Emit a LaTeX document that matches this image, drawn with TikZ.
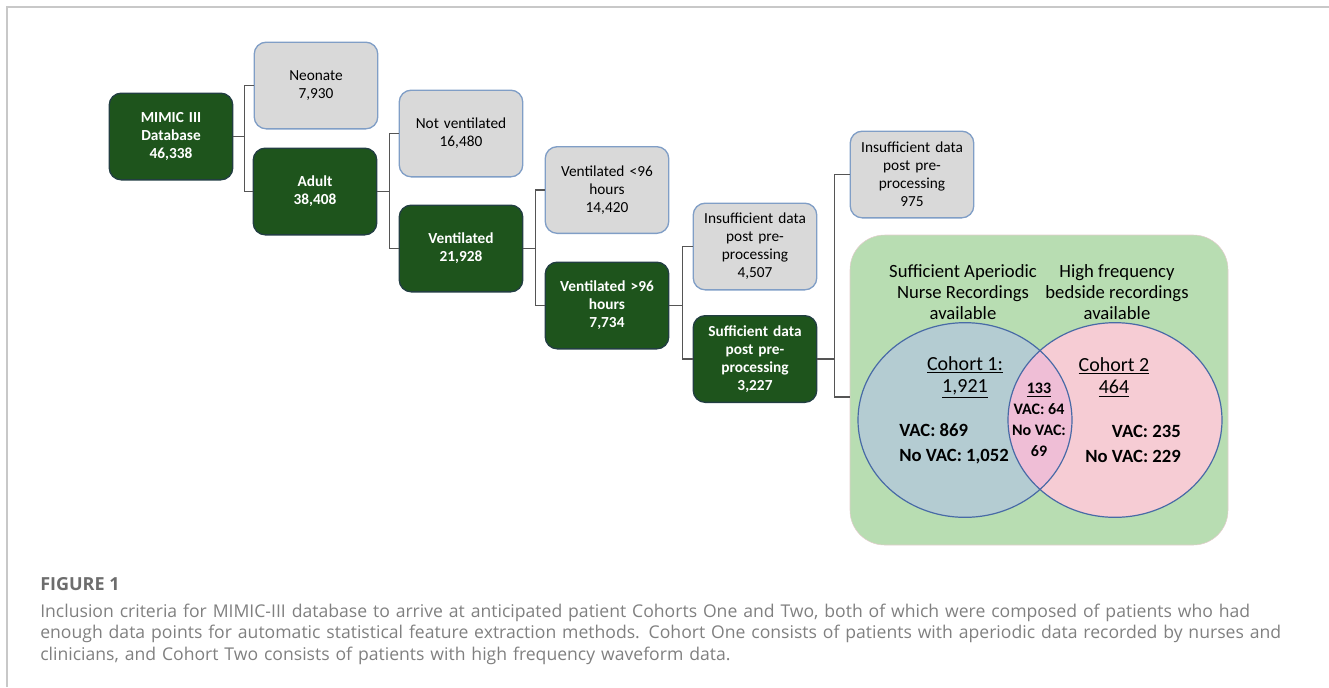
\documentclass[tikz,border=0pt]{standalone}
\usepackage{fontspec}
\setmainfont{Carlito}
\newfontfamily\capfont{Open Sans}
\usepackage{tikz}
\usetikzlibrary{positioning}

\definecolor{keepgreen}{RGB}{30,84,28}
\definecolor{keepedge}{RGB}{34,62,66}
\definecolor{dropgrey}{RGB}{217,217,217}
\definecolor{dropedge}{RGB}{128,158,198}
\definecolor{linkgrey}{RGB}{85,85,85}
\definecolor{cohortgreen}{RGB}{184,221,178}
\definecolor{cohortedge}{RGB}{226,204,204}
\definecolor{nursefill}{RGB}{180,204,210}
\definecolor{wavefill}{RGB}{246,204,212}
\definecolor{bothfill}{RGB}{239,190,214}
\definecolor{vennedge}{RGB}{72,106,166}
\definecolor{framegrey}{RGB}{200,200,200}
\definecolor{capgrey}{RGB}{128,128,128}

\begin{document}
\begin{tikzpicture}[
x=0.75pt,y=-0.75pt,
box/.style={draw,rounded corners=9pt,align=center,minimum width=91.5pt,minimum height=65pt,text width=86pt,line width=1pt},
kept/.style={box,fill=keepgreen,draw=keepedge,text=white,font=\fontsize{11.5}{13.5}\selectfont\bfseries},
dropped/.style={box,fill=dropgrey,draw=dropedge,font=\fontsize{11.5}{13.5}\selectfont},
link/.style={draw=linkgrey,line width=0.9pt},
venntext/.style={align=center,inner sep=0pt}
]
\useasboundingbox (0,0) rectangle (1329,687);
\draw[framegrey,line width=1.5pt] (7,687) -- (7,7) -- (1329,7);

% flow of patients
\node[kept] (db) at (171,136.5) {MIMIC III\\Database\\46,338};
\node[dropped] (neo) at (316,85.5) {Neonate\\7,930};
\node[kept] (adult) at (315,191.5) {Adult\\38,408};
\node[dropped] (notvent) at (461,133.5) {Not ventilated\\16,480};
\node[kept] (vent) at (461,248.5) {Ventilated\\21,928};
\node[dropped] (vshort) at (607,190) {Ventilated <96\\hours\\14,420};
\node[kept] (vlong) at (607,305.5) {Ventilated >96\\hours\\7,734};
\node[dropped] (lackA) at (755,246.5) {Insufficient data\\post pre-\\processing\\4,507};
\node[kept] (suff) at (755,359) {Sufficient data\\post pre-\\processing\\3,227};
\node[dropped] (lackB) at (912,174.5) {Insufficient data\\post pre-\\processing\\975};
\node[draw=cohortedge,fill=cohortgreen,rounded corners=26pt,minimum width=283.5pt,minimum height=232.5pt] (cohorts) at (1039,390) {};

\draw[link] (db.east) -- ++(11,0) coordinate (t1) |- (neo.west);
\draw[link] (t1) |- (adult.west);
\draw[link] (adult.east) -- ++(12,0) coordinate (t2) |- (notvent.west);
\draw[link] (t2) |- (vent.west);
\draw[link] (vent.east) -- ++(12,0) coordinate (t3) |- (vshort.west);
\draw[link] (t3) |- (vlong.west);
\draw[link] (vlong.east) -- ++(13,0) coordinate (t4) |- (lackA.west);
\draw[link] (t4) |- (suff.west);
\draw[link] (suff.east) -- ++(17,0) coordinate (t5) |- (lackB.west);
\draw[link] (t5) |- ([yshift=-5.25pt]cohorts.west);

% venn of the two cohorts
\coordinate (nurse) at (965,420);
\coordinate (wave) at (1115,420);
\fill[nursefill] (nurse) ellipse [x radius=80.25pt,y radius=73pt];
\fill[wavefill] (wave) ellipse [x radius=80.25pt,y radius=73pt];
\begin{scope}
\clip (nurse) ellipse [x radius=80.25pt,y radius=73pt];
\fill[bothfill] (wave) ellipse [x radius=80.25pt,y radius=73pt];
\end{scope}
\draw[vennedge,line width=0.9pt] (nurse) ellipse [x radius=80.25pt,y radius=73pt];
\draw[vennedge,line width=0.9pt] (wave) ellipse [x radius=80.25pt,y radius=73pt];

\node[venntext,font=\fontsize{14}{15.8}\selectfont] (nursehead) at (963,292) {Sufficient Aperiodic\\Nurse Recordings\\available};
\node[venntext,font=\fontsize{14}{15.8}\selectfont] (wavehead) at (1117,292) {High frequency\\bedside recordings\\available};
\node[venntext,font=\fontsize{15}{17}\selectfont] (coh1) at (965,377) {\underline{Cohort 1:}\\\underline{1,921}};
\node[venntext,font=\fontsize{15}{17}\selectfont] (coh2) at (1114,377) {\underline{Cohort 2}\\\underline{464}};
\node[venntext,font=\fontsize{12}{15.6}\selectfont\bfseries] (both) at (1039,420) {\underline{133}\\VAC: 64\\No VAC:\\69};
\node[venntext,align=left,anchor=west,font=\fontsize{14}{18.5}\selectfont\bfseries] (count1) at (899,444) {VAC: 869\\No VAC: 1,052};
\node[venntext,align=right,anchor=east,font=\fontsize{14}{18.5}\selectfont\bfseries] (count2) at (1181,444) {VAC: 235\\No VAC: 229};

% caption
\node[anchor=base west,inner sep=0pt,text=capgrey!85!black,font=\capfont\fontsize{13.5}{15}\selectfont\bfseries] (figlabel) at (40,590) {FIGURE 1};
\node[anchor=base west,inner sep=0pt,text width=980pt,align=left,text=capgrey,font=\capfont\fontsize{13.2}{16.3}\selectfont] (caption) at (40,617) {Inclusion criteria for MIMIC-III database to arrive at anticipated patient Cohorts One and Two, both of which were composed of patients who had\\enough data points for automatic statistical feature extraction methods. Cohort One consists of patients with aperiodic data recorded by nurses and\\clinicians, and Cohort Two consists of patients with high frequency waveform data.};
\end{tikzpicture}
\end{document}
